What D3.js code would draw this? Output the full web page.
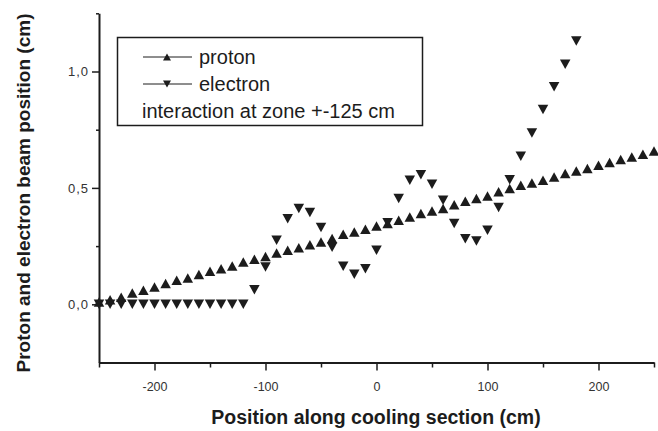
<!DOCTYPE html>
<html>
<head>
<meta charset="utf-8">
<script src="https://cdn.jsdelivr.net/npm/d3@7/dist/d3.min.js"></script>
<style>
  body { margin: 0; background: #fff; }
  text { font-family: "Liberation Sans", Arial, sans-serif; }
</style>
</head>
<body>
<div id="chart"></div>
<script>
// Positions along the cooling section (cm)
const protonPos = [-250, -240, -230, -220, -210, -200, -190, -180, -170, -160, -150, -140, -130,
  -120, -110, -100, -90, -80, -70, -60, -50, -40, -30, -20, -10, 0,
  10, 20, 30, 40, 50, 60, 70, 80, 90, 100, 110, 120,
  130, 140, 150, 160, 170, 180, 190, 200, 210, 220, 230, 240, 250];
const protonVal = [0.01, 0.02, 0.03, 0.049, 0.060, 0.074, 0.089, 0.103, 0.113, 0.128, 0.142, 0.153, 0.165,
  0.182, 0.193, 0.205, 0.220, 0.232, 0.243, 0.256, 0.268, 0.283, 0.301, 0.311, 0.322, 0.336,
  0.347, 0.361, 0.375, 0.390, 0.401, 0.411, 0.428, 0.443, 0.454, 0.465, 0.483, 0.497,
  0.511, 0.521, 0.533, 0.547, 0.562, 0.573, 0.583, 0.597, 0.609, 0.622, 0.633, 0.645, 0.658];

const electronPos = [-250, -240, -230, -220, -210, -200, -190, -180, -170, -160, -150, -140, -130, -120,
  -110, -100, -90, -80, -70, -60, -50, -40, -30, -20, -10, 0,
  10, 20, 30, 40, 50, 60, 70, 80, 90, 100, 110, 120,
  130, 140, 150, 160, 170, 180];
const electronVal = [0, 0, 0, 0, 0, 0, 0, 0, 0, 0, 0, 0, 0, 0,
  0.063, 0.160, 0.275, 0.368, 0.411, 0.394, 0.330, 0.245, 0.163, 0.129, 0.153, 0.232,
  0.350, 0.454, 0.533, 0.557, 0.516, 0.447, 0.347, 0.282, 0.272, 0.318, 0.416, 0.535,
  0.636, 0.736, 0.837, 0.934, 1.031, 1.131];

// Axis ticks
const xMajorTicks = [-200, -100, 0, 100, 200];
const xMajorLabels = ["-200", "-100", "0", "100", "200"];
const xMinorTicks = [-250, -150, -50, 50, 150, 250];
const yMajorTicks = [0, 0.5, 1.0];
const yMajorLabels = ["0,0", "0,5", "1,0"];
const yMinorTicks = [0.25, 0.75, 1.25];

const legendItems = [
  { name: "proton", dir: "up" },
  { name: "electron", dir: "down" }
];
const legendNote = "interaction at zone +-125 cm";

const W = 658, H = 431;
const ink = "#1c1c1c";

const svg = d3.select("#chart")
  .append("svg")
  .attr("width", W)
  .attr("height", H);

const x = d3.scaleLinear().domain([-250, 250]).range([99, 654]);
const y = d3.scaleLinear().domain([-0.25, 1.25]).range([362.5, 13.3]);

// triangle paths centred on their bounding box
function tri(dir, w, h) {
  const a = w / 2, b = h / 2;
  return dir === "up"
    ? `M0,${-b}L${a},${b}L${-a},${b}Z`
    : `M0,${b}L${a},${-b}L${-a},${-b}Z`;
}

// Axes
const xAxisG = svg.append("g").attr("transform", `translate(0,${y(-0.25)})`);
xAxisG.append("g")
  .call(d3.axisBottom(x).tickValues(xMinorTicks).tickSize(5).tickFormat(""))
  .call(g => g.select(".domain").remove());
xAxisG.append("g")
  .call(d3.axisBottom(x).tickValues(xMajorTicks).tickSize(8).tickSizeOuter(0).tickPadding(12)
    .tickFormat((d, i) => xMajorLabels[i]));

const yAxisG = svg.append("g").attr("transform", `translate(${x(-250)},0)`);
yAxisG.append("g")
  .call(d3.axisLeft(y).tickValues(yMinorTicks).tickSize(3).tickFormat(""))
  .call(g => g.select(".domain").remove());
yAxisG.append("g")
  .call(d3.axisLeft(y).tickValues(yMajorTicks).tickSize(7).tickSizeOuter(0).tickPadding(3)
    .tickFormat((d, i) => yMajorLabels[i]));

svg.selectAll(".domain").attr("stroke", ink).attr("stroke-width", 2);
svg.selectAll(".tick line").attr("stroke", ink).attr("stroke-width", 1.5);
svg.selectAll(".tick text")
  .attr("font-size", "12.5px")
  .attr("fill", "#333")
  .attr("font-family", "'Liberation Sans', Arial, sans-serif");
yAxisG.selectAll(".tick text").attr("font-size", "13px").attr("letter-spacing", "1px");

// Markers
svg.append("g")
  .selectAll("path")
  .data(protonPos.map((p, i) => [p, protonVal[i]]))
  .join("path")
  .attr("d", tri("up", 10.5, 9.5))
  .attr("transform", d => `translate(${x(d[0])},${y(d[1])})`)
  .attr("fill", ink);

svg.append("g")
  .selectAll("path")
  .data(electronPos.map((p, i) => [p, electronVal[i]]))
  .join("path")
  .attr("d", tri("down", 10.5, 9.5))
  .attr("transform", d => `translate(${x(d[0])},${y(d[1])})`)
  .attr("fill", ink);

// Legend
const legend = svg.append("g");
legend.append("rect")
  .attr("x", 117.5).attr("y", 37.5)
  .attr("width", 305).attr("height", 88)
  .attr("fill", "#fff")
  .attr("stroke", ink)
  .attr("stroke-width", 1.5);

legendItems.forEach((item, i) => {
  const cy = 57 + i * 27;
  legend.append("line")
    .attr("x1", 143).attr("x2", 192)
    .attr("y1", cy).attr("y2", cy)
    .attr("stroke", ink).attr("stroke-width", 1);
  legend.append("path")
    .attr("d", tri(item.dir, 8, 7))
    .attr("transform", `translate(167,${cy})`)
    .attr("fill", ink);
  legend.append("text")
    .attr("x", 199).attr("y", cy + 7)
    .attr("font-size", "20px")
    .attr("fill", ink)
    .text(item.name);
});
legend.append("text")
  .attr("x", 142).attr("y", 118)
  .attr("font-size", "20px")
  .attr("fill", ink)
  .text(legendNote);

// Axis titles
svg.append("text")
  .attr("x", 376).attr("y", 424)
  .attr("text-anchor", "middle")
  .attr("font-size", "19.5px")
  .attr("font-weight", "bold")
  .attr("fill", ink)
  .text("Position along cooling section (cm)");

svg.append("text")
  .attr("transform", "translate(30,193) rotate(-90)")
  .attr("text-anchor", "middle")
  .attr("font-size", "19px")
  .attr("font-weight", "bold")
  .attr("fill", ink)
  .text("Proton and electron beam position (cm)");
</script>
</body>
</html>
